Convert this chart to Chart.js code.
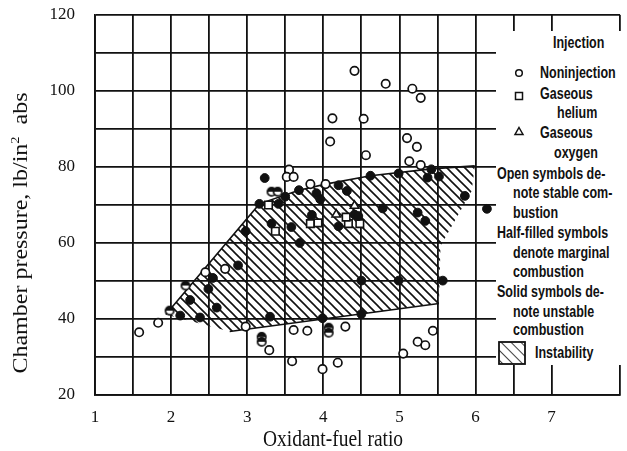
<!DOCTYPE html>
<html>
<head>
<meta charset="utf-8">
<script src="https://cdn.jsdelivr.net/npm/chart.js@4.4.1/dist/chart.umd.min.js"></script>
<style>
  html, body { margin: 0; padding: 0; background: #fff; }
  #wrap { position: relative; width: 627px; height: 451px; overflow: hidden; }
  #myChart { position: absolute; left: 0; top: 0; }
  .ytitle {
    position: absolute; left: -140px; top: 221px; width: 320px; height: 24px;
    line-height: 24px; text-align: center; color: #111;
    font: 20px "Liberation Serif", "Times New Roman", serif;
    transform: rotate(-90deg) scaleX(1.2);
  }
  .ytitle sup { font-size: 12px; }
  .xtitle {
    position: absolute; left: 233px; top: 428px; width: 200px; height: 24px;
    line-height: 24px; text-align: center; color: #111;
    font: 19.5px "Liberation Serif", "Times New Roman", serif;
    transform: scaleY(1.2);
  }
  #legend { position: absolute; left: 496px; top: 31px; width: 125px; height: 334px; background: #fff; }
  #legend div {
    position: absolute; white-space: nowrap; color: #111;
    font: bold 12.5px "Liberation Sans", Arial, sans-serif; line-height: 14px;
    transform: scaleY(1.32); transform-origin: left center;
  }
</style>
</head>
<body>
<div id="wrap">
  <canvas id="myChart" width="627" height="451"></canvas>
  <div class="ytitle">Chamber pressure, lb/in<sup>2</sup>&nbsp; abs</div>
  <div class="xtitle">Oxidant-fuel ratio</div>
  <div id="legend">
    <svg width="125" height="334" style="position:absolute;left:0;top:0">
      <defs>
        <pattern id="hatch" width="7" height="7" patternUnits="userSpaceOnUse" patternTransform="rotate(-45)">
          <line x1="0" y1="0" x2="0" y2="7" stroke="#111" stroke-width="1.6"/>
        </pattern>
      </defs>
      <circle cx="23" cy="42" r="3.3" fill="none" stroke="#111" stroke-width="1.5"/>
      <rect x="19.5" y="61.5" width="7" height="7" fill="none" stroke="#111" stroke-width="1.5"/>
      <polygon points="23,96.5 27,103.5 19,103.5" fill="none" stroke="#111" stroke-width="1.5"/>
      <rect x="3" y="311" width="26" height="22" fill="url(#hatch)" stroke="#111" stroke-width="1.8"/>
    </svg>
    <div style="left:57px;top:5px">Injection</div>
    <div style="left:44px;top:35px">Noninjection</div>
    <div style="left:44px;top:56px">Gaseous</div>
    <div style="left:61px;top:75px">helium</div>
    <div style="left:44px;top:95px">Gaseous</div>
    <div style="left:58px;top:115px">oxygen</div>
    <div style="left:1px;top:136px">Open symbols de-</div>
    <div style="left:17px;top:155px">note stable com-</div>
    <div style="left:17px;top:175px">bustion</div>
    <div style="left:1px;top:195px">Half-filled symbols</div>
    <div style="left:17px;top:215px">denote marginal</div>
    <div style="left:17px;top:234px">combustion</div>
    <div style="left:1px;top:254px">Solid symbols de-</div>
    <div style="left:17px;top:274px">note unstable</div>
    <div style="left:17px;top:292px">combustion</div>
    <div style="left:39px;top:315px">Instability</div>
  </div>
</div>
<script>
// values: [oxidant-fuel ratio, chamber pressure]
const stableCircles = [
  [4.41, 105.3], [4.82, 101.9], [5.17, 100.6], [5.28, 98.2], [4.12, 92.8], [4.53, 92.7],
  [4.09, 86.7], [5.10, 87.6], [5.23, 85.3], [4.56, 83.1], [5.13, 81.5], [5.28, 80.5],
  [3.55, 79.3], [3.52, 77.4], [3.61, 77.4], [3.83, 75.5], [4.03, 75.5],
  [1.58, 36.5], [1.83, 39.0], [2.45, 52.3], [2.71, 53.2], [2.98, 38.0], [3.61, 37.1],
  [3.79, 36.9], [4.29, 38.0], [3.29, 31.8], [3.59, 28.9], [3.99, 26.8], [4.19, 28.5],
  [5.05, 30.9], [5.24, 34.0], [5.34, 33.1], [5.44, 36.9]
];
const marginalCircles = [
  [3.32, 73.5], [3.40, 73.5], [3.19, 35.3], [3.19, 34.0], [4.07, 37.7], [4.07, 36.4],
  [2.19, 48.8], [1.98, 42.2]
];
const unstableCircles = [
  [3.23, 77.1], [3.50, 72.2], [3.68, 73.9], [3.91, 73.1], [3.96, 71.5], [4.20, 75.2],
  [4.31, 73.7], [4.62, 77.7], [4.99, 78.3], [5.42, 79.4], [5.37, 77.2], [5.52, 77.5],
  [5.86, 72.4], [6.15, 69.0], [4.78, 69.1], [5.24, 68.0], [5.34, 65.8], [3.16, 70.3],
  [3.41, 70.3], [3.85, 67.4], [3.32, 65.1], [3.58, 64.2], [3.69, 60.0], [2.98, 63.1],
  [2.88, 54.1], [2.55, 50.8], [2.49, 47.9], [2.25, 45.0], [2.60, 43.0], [2.12, 40.9],
  [2.38, 40.4], [3.30, 40.6], [3.99, 40.2], [4.50, 41.3], [4.50, 50.1], [4.99, 50.1],
  [5.57, 50.1], [4.20, 64.4], [4.41, 67.5], [4.46, 67.1]
];
const heliumSquares = [
  [3.28, 70.0], [3.37, 63.1], [3.83, 65.1], [3.93, 65.3], [4.33, 65.1], [4.48, 65.1], [4.30, 66.8]
];
const oxygenTriangles = [[4.17, 67.5], [4.41, 69.8]];

// instability region (hatched) and its drawn edges
const instabilityRegion = [
  [3.16, 70.3], [3.68, 73.9], [4.03, 75.5], [4.62, 77.7], [5.42, 79.5], [5.99, 80.3],
  [5.95, 73.7], [5.54, 59.2], [5.52, 44.1], [2.77, 36.7], [1.93, 41.2]
];
const upperEdge = [
  [5.99, 80.3], [5.42, 79.5], [4.62, 77.7], [4.03, 75.5], [3.68, 73.9], [3.16, 70.3], [1.93, 41.2]
];
const lowerEdge = [[2.77, 36.7], [5.52, 44.1]];

const ink = '#111';
const toXY = arr => arr.map(p => ({ x: p[0], y: p[1] }));

const ctx = document.getElementById('myChart').getContext('2d');

// diagonal hatch fill
function hatchPattern() {
  const s = 9;
  const c = document.createElement('canvas');
  c.width = s; c.height = s;
  const g = c.getContext('2d');
  g.strokeStyle = ink;
  g.lineWidth = 1.6;
  g.beginPath();
  g.moveTo(-1, -1); g.lineTo(s + 1, s + 1);
  g.moveTo(-1, s - 1); g.lineTo(1, s + 1);
  g.moveTo(s - 1, -1); g.lineTo(s + 1, 1);
  g.stroke();
  return ctx.createPattern(c, 'repeat');
}

// half-filled circle marker
function halfDot() {
  const c = document.createElement('canvas');
  c.width = 12; c.height = 12;
  const g = c.getContext('2d');
  g.beginPath(); g.arc(6, 6, 4.2, 0, Math.PI * 2); g.fillStyle = '#fff'; g.fill();
  g.beginPath(); g.arc(6, 6, 4.2, Math.PI, 0); g.fillStyle = ink; g.fill();
  g.beginPath(); g.arc(6, 6, 4.2, 0, Math.PI * 2);
  g.lineWidth = 1.7; g.strokeStyle = ink; g.stroke();
  return c;
}

// fixed axis boxes, no extra label overflow padding
function fixBox(s, size) {
  if (s.isHorizontal()) s.height = size; else s.width = size;
  s.paddingTop = 0; s.paddingBottom = 0; s.paddingLeft = 0; s.paddingRight = 0;
}

const serif = '"Liberation Serif", "Times New Roman", serif';

new Chart(ctx, {
  type: 'scatter',
  data: {
    datasets: [
      {
        data: toXY(instabilityRegion), showLine: true, fill: 'shape', tension: 0,
        backgroundColor: hatchPattern(), borderColor: 'rgba(0,0,0,0)', pointRadius: 0, order: 5
      },
      { data: toXY(upperEdge), showLine: true, fill: false, borderColor: ink, borderWidth: 1.6, pointRadius: 0, order: 4 },
      { data: toXY(lowerEdge), showLine: true, fill: false, borderColor: ink, borderWidth: 1.6, pointRadius: 0, order: 4 },
      { data: toXY(stableCircles), pointStyle: 'circle', pointRadius: 4.2, borderWidth: 1.7, borderColor: ink, backgroundColor: '#fff', order: 1 },
      { data: toXY(marginalCircles), pointStyle: halfDot(), order: 1 },
      { data: toXY(unstableCircles), pointStyle: 'circle', pointRadius: 4.4, borderWidth: 1, borderColor: ink, backgroundColor: ink, order: 1 },
      { data: toXY(heliumSquares), pointStyle: 'rect', pointRadius: 5.3, borderWidth: 1.6, borderColor: ink, backgroundColor: '#fff', order: 1 },
      { data: toXY(oxygenTriangles), pointStyle: 'triangle', pointRadius: 5, borderWidth: 1.5, borderColor: ink, backgroundColor: '#fff', order: 1 }
    ]
  },
  options: {
    responsive: false,
    animation: false,
    events: [],
    layout: { padding: { top: 15, right: 3, left: 0, bottom: 0 } },
    plugins: { legend: { display: false }, tooltip: { enabled: false } },
    scales: {
      x: {
        type: 'linear', min: 1, max: 7.9,
        afterFit: s => fixBox(s, 56),
        grid: { color: ink, lineWidth: 1.8, drawTicks: false },
        border: { color: ink, width: 1.8 },
        ticks: {
          stepSize: 0.5, autoSkip: false, maxRotation: 0, padding: 12, color: ink,
          font: { family: serif, size: 17 },
          callback: v => (Number.isInteger(v) && v <= 7) ? v : ''
        }
      },
      y: {
        type: 'linear', min: 20, max: 120,
        afterFit: s => fixBox(s, 95),
        grid: { color: ink, lineWidth: 1.8, drawTicks: false },
        border: { color: ink, width: 1.8 },
        ticks: {
          stepSize: 10, autoSkip: false, padding: 20, color: ink,
          font: { family: serif, size: 17 },
          callback: v => (v % 20 === 0) ? v : ''
        }
      }
    }
  }
});
</script>
</body>
</html>
